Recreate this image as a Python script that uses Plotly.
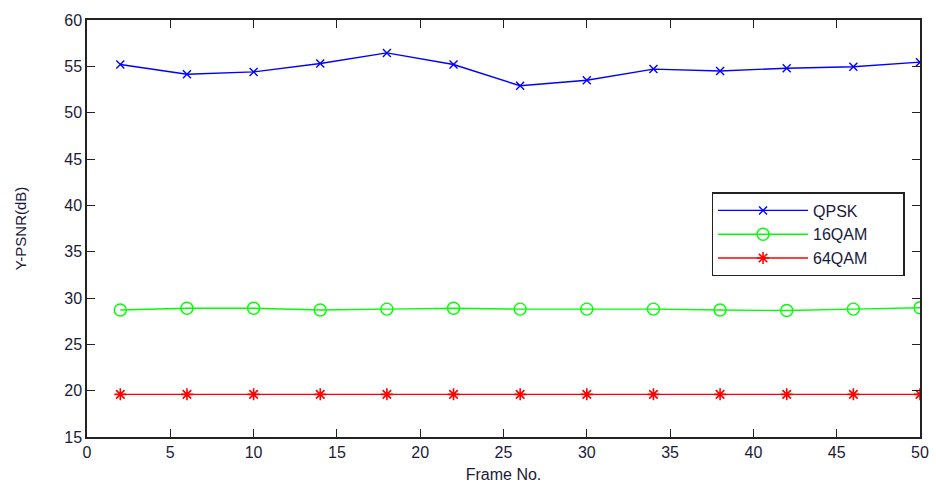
import plotly.graph_objects as go

frames = [2, 6, 10, 14, 18, 22, 26, 30, 34, 38, 42, 46, 50]
qpsk = [55.2, 54.15, 54.4, 55.3, 56.45, 55.2, 52.9, 53.5, 54.7, 54.5, 54.8, 54.95, 55.45]
qam16 = [28.7, 28.9, 28.9, 28.7, 28.8, 28.9, 28.8, 28.8, 28.8, 28.7, 28.65, 28.8, 28.95]
qam64 = [19.6, 19.6, 19.6, 19.6, 19.6, 19.6, 19.6, 19.6, 19.6, 19.6, 19.6, 19.6, 19.6]
series_names = ["QPSK", "16QAM", "64QAM"]

x_ticks = [0, 5, 10, 15, 20, 25, 30, 35, 40, 45, 50]
y_ticks = [15, 20, 25, 30, 35, 40, 45, 50, 55, 60]

text_color = "#1a1a3a"
font = dict(family="Liberation Sans, Arial, sans-serif", size=16, color=text_color)

# pad legend labels so the legend box has room on the right
pad = "\u00a0" * 7

fig = go.Figure()
fig.add_trace(go.Scatter(
    x=frames, y=qpsk, name=series_names[0] + pad, mode="lines+markers",
    line=dict(color="#0000ff", width=1.4),
    marker=dict(symbol="x-thin-open", size=8, line=dict(color="#0000ff", width=1.4)),
))
fig.add_trace(go.Scatter(
    x=frames, y=qam16, name=series_names[1] + pad, mode="lines+markers",
    line=dict(color="#00ff00", width=1.4),
    marker=dict(symbol="circle-open", size=12, color="#00ff00", line=dict(color="#00ff00", width=1.4)),
))
fig.add_trace(go.Scatter(
    x=frames, y=qam64, name=series_names[2] + pad, mode="lines+markers",
    line=dict(color="#ff0000", width=1.4),
    marker=dict(symbol="asterisk-open", size=10, line=dict(color="#ff0000", width=1.6)),
))

axis_common = dict(
    showgrid=False, zeroline=False, showline=True, mirror="allticks",
    linecolor="#222222", linewidth=1.5, ticks="inside", ticklen=8,
    tickwidth=1.3, tickcolor="#222222", tickfont=font,
)

fig.update_layout(
    width=936, height=483,
    margin=dict(l=87, r=16, t=17, b=46),
    paper_bgcolor="white", plot_bgcolor="white",
    font=font,
    showlegend=True,
    legend=dict(
        x=0.750, y=0.587, xanchor="left", yanchor="top",
        bgcolor="white", bordercolor="#222222", borderwidth=1.3,
        font=dict(family="Liberation Sans, Arial, sans-serif", size=16, color=text_color),
        itemwidth=90, tracegroupgap=0,
    ),
    xaxis=dict(
        range=[0, 50], tickvals=x_ticks, automargin=False,
        title=dict(text="Frame No.", font=dict(size=16)),
        **axis_common,
    ),
    yaxis=dict(
        range=[15, 60], tickvals=y_ticks, automargin=True,
        title=dict(text="Y-PSNR(dB)", font=dict(size=15), standoff=34),
        **axis_common,
    ),
)

fig.write_html("out.html")
